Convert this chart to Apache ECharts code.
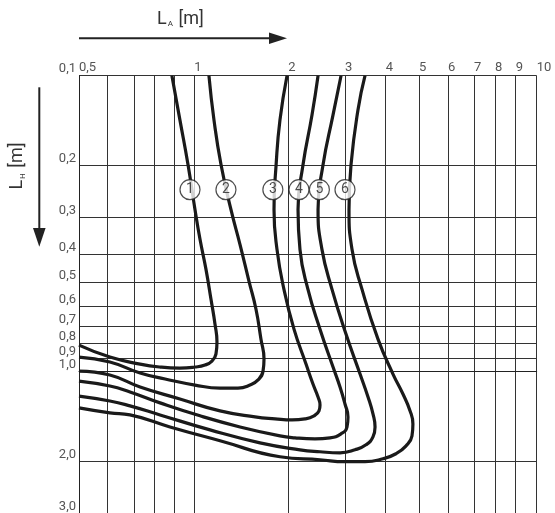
<!DOCTYPE html>
<html><head><meta charset="utf-8">
<script src="https://cdn.jsdelivr.net/npm/echarts@6/dist/echarts.min.js"></script>
<style>html,body{margin:0;padding:0;background:#fff}#c{width:555px;height:513px}</style>
</head><body><div id="c"></div>
<script>
// ---- axis scale definition (hand-drawn, roughly logarithmic) ----
const xGridValues = [0.5,0.6,0.7,0.8,0.9,1,2,3,4,5,6,7,8,9,10];
const xGridStops  = [0,28.3,55,75,95,115.3,209.3,266,306.7,340,369,395,416,436.7,457.7];
const xLabelValues = [0.5,1,2,3,4,5,6,7,8,9,10];
const yGridValues = [0.1,0.2,0.3,0.4,0.5,0.6,0.7,0.8,0.9,1,2,3];
const yLabelValues = [0.1,0.2,0.3,0.4,0.5,0.6,0.7,0.8,0.9,1,2,3];

// ---- curves: [L_A (m), L_H (m)] ----
const curve1 = [[0.889,0.1],[0.928,0.141],[0.968,0.2],[1.005,0.283],[1.043,0.357],[1.09,0.451],[1.131,0.569],[1.165,0.691],[1.182,0.794],[1.173,0.872],[1.139,0.92],[1.082,0.949],[1.005,0.964],[0.928,0.972],[0.829,0.964],[0.729,0.942],[0.609,0.892],[0.5,0.813]];
const curve2 = [[1.114,0.1],[1.156,0.141],[1.218,0.2],[1.31,0.283],[1.401,0.372],[1.497,0.495],[1.576,0.615],[1.635,0.776],[1.672,0.906],[1.66,0.995],[1.6,1.066],[1.508,1.109],[1.38,1.135],[1.209,1.135],[1.005,1.109],[0.854,1.058],[0.729,1.01],[0.609,0.927],[0.5,0.893]];
const curve3 = [[1.981,0.1],[1.881,0.141],[1.828,0.2],[1.8,0.283],[1.84,0.386],[1.937,0.527],[2.083,0.718],[2.27,0.942],[2.386,1.1],[2.474,1.217],[2.509,1.295],[2.491,1.356],[2.404,1.409],[2.254,1.443],[2.054,1.455],[1.814,1.443],[1.565,1.421],[1.209,1.356],[0.928,1.236],[0.729,1.126],[0.609,1.026],[0.5,0.995]];
const curve4 = [[2.474,0.1],[2.37,0.1356],[2.222,0.2],[2.144,0.283],[2.174,0.386],[2.302,0.527],[2.509,0.718],[2.754,0.964],[2.895,1.126],[3.0,1.285],[3.064,1.421],[3.043,1.536],[2.916,1.621],[2.695,1.672],[2.42,1.685],[2.098,1.672],[1.881,1.647],[1.401,1.536],[1.043,1.409],[0.829,1.274],[0.684,1.17],[0.609,1.117],[0.5,1.075]];
const curve5 = [[2.916,0.1],[2.754,0.1356],[2.564,0.2],[2.474,0.283],[2.544,0.386],[2.734,0.527],[3.021,0.746],[3.337,1.018],[3.53,1.217],[3.656,1.388],[3.71,1.536],[3.656,1.659],[3.48,1.765],[3.22,1.835],[2.895,1.878],[2.509,1.863],[2.174,1.835],[1.623,1.738],[1.123,1.572],[0.829,1.399],[0.684,1.304],[0.609,1.255],[0.5,1.208]];
const curve6 = [[3.456,0.1],[3.288,0.1305],[3.13,0.2],[3.086,0.283],[3.152,0.386],[3.384,0.527],[3.788,0.776],[4.2,1.018],[4.49,1.189],[4.71,1.356],[4.8,1.5],[4.77,1.647],[4.585,1.779],[4.285,1.892],[3.925,1.967],[3.456,2.013],[3.0,2.013],[2.509,1.983],[1.881,1.937],[1.209,1.71],[0.879,1.536],[0.684,1.399],[0.609,1.377],[0.5,1.325]];
const curves = [curve1,curve2,curve3,curve4,curve5,curve6];
// circled curve numbers: [L_A, L_H, label]
const markers = [[0.978,0.2427,'1'],[1.263,0.2427,'2'],[1.785,0.2427,'3'],[2.159,0.2427,'4'],[2.498,0.2427,'5'],[3.0,0.2427,'6']];

function xU(v){
  for(let i=0;i<xGridValues.length-1;i++){
    const a=xGridValues[i], b=xGridValues[i+1];
    if(v<=b || i===xGridValues.length-2){
      const t=Math.log(v/a)/Math.log(b/a);
      return xGridStops[i]+t*(xGridStops[i+1]-xGridStops[i]);
    }
  }
}
function yU(v){ return Math.log10(v); }
function fmt(v){ return String(v).replace('.',','); }

const xTickU = xGridValues.map(xU);
const xLabU = xLabelValues.map(xU);
const xLabMap = {}; xLabelValues.forEach(v=>{ xLabMap[xU(v).toFixed(2)] = fmt(v); });
const yTickU = yGridValues.map(yU);
const yLabU = yLabelValues.map(yU);

const chart = echarts.init(document.getElementById('c'), null, {renderer:'canvas'});
const axisFont = {fontFamily:'Roboto, "DejaVu Sans", sans-serif', fontSize:13, color:'#555'};
const series = curves.map(c=>({
  type:'line', data:c.map(p=>[xU(p[0]), yU(p[1])]), smooth:0.5, showSymbol:false,
  lineStyle:{color:'#1a1a1a', width:3.2}, z:3, silent:true
}));
series.push({
  type:'scatter', data:markers.map(m=>[xU(m[0]), yU(m[1]), m[2]]), symbol:'circle', symbolSize:20,
  itemStyle:{color:'#fff', borderColor:'#222', borderWidth:1.2}, z:5,
  label:{show:true, position:'inside', formatter:p=>p.data[2], fontSize:14, color:'#222', fontFamily:'Roboto, sans-serif'}
});
chart.setOption({
  animation:false,
  grid:{left:79, right:18.3, top:75.7, bottom:-1.4, show:false},
  xAxis:{type:'value', position:'top', min:0, max:xGridStops[xGridStops.length-1],
    axisLine:{show:true, lineStyle:{color:'#222', width:1}},
    axisTick:{show:false, customValues:xTickU},
    splitLine:{show:true, lineStyle:{color:'#333', width:1}},
    axisLabel:Object.assign({customValues:xLabU, align:'left', margin:1,
      formatter:v=>xLabMap[v.toFixed(2)]||''}, axisFont)
  },
  yAxis:{type:'value', inverse:true, min:-1, max:Math.log10(3),
    axisLine:{show:true, lineStyle:{color:'#222', width:1}},
    axisTick:{show:false, customValues:yTickU},
    splitLine:{show:true, lineStyle:{color:'#333', width:1}},
    axisLabel:Object.assign({customValues:yLabU, verticalAlign:'bottom', margin:3,
      formatter:v=>{const r=Math.pow(10,v); return (Math.round(r*10)/10).toFixed(1).replace('.',',');}}, axisFont)
  },
  graphic:[
    {type:'text', left:157, top:10, style:{rich:{l:{fontSize:18, fontFamily:'Roboto, sans-serif', fill:'#333'}, s:{fontSize:8, fontFamily:'Roboto, sans-serif', fill:'#333', padding:[10,1,0,1]}}, text:'{l|L}{s|A}{l| [m]}'}},
    {type:'line', shape:{x1:79, y1:38.3, x2:272, y2:38.3}, style:{stroke:'#222', lineWidth:2}},
    {type:'polygon', shape:{points:[[269,32.5],[287,38.3],[269,44]]}, style:{fill:'#222'}},
    {type:'text', x:17.5, y:166, rotation:Math.PI/2, style:{rich:{l:{fontSize:18, fontFamily:'Roboto, sans-serif', fill:'#333'}, s:{fontSize:8, fontFamily:'Roboto, sans-serif', fill:'#333', padding:[10,1,0,1]}}, text:'{l|L}{s|H}{l| [m]}', align:'center', verticalAlign:'middle'}},
    {type:'line', shape:{x1:39.3, y1:87.3, x2:39.3, y2:232}, style:{stroke:'#222', lineWidth:2}},
    {type:'polygon', shape:{points:[[33,228],[39.3,246.7],[45.6,228]]}, style:{fill:'#222'}}
  ],
  series:series
});
</script></body></html>
